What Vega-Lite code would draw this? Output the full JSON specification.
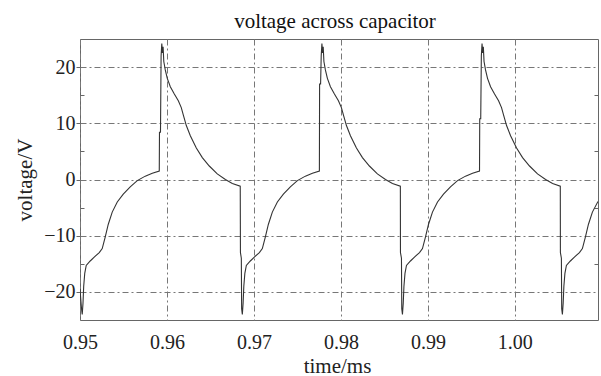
{
  "$schema": "https://vega.github.io/schema/vega-lite/v6.json",
  "width": 518,
  "height": 281,
  "autosize": {"type": "none"},
  "padding": {"left": 80, "top": 39, "right": 3, "bottom": 56},
  "background": "white",
  "config": {"view": {"stroke": "#666", "strokeWidth": 1}, "font": "Liberation Serif"},
  "title": {"text": "voltage across capacitor", "font": "Liberation Serif", "fontSize": 21, "fontWeight": "normal", "color": "#111", "anchor": "middle", "dx": -4, "dy": 22, "offset": 12, "baseline": "alphabetic"},
  "data": {"values": [
    {"t": 0.95, "v": -19.5},
    {"t": 0.950175, "v": -23},
    {"t": 0.950255, "v": -24.0},
    {"t": 0.950345, "v": -22},
    {"t": 0.950425, "v": -19},
    {"t": 0.950545, "v": -16.7},
    {"t": 0.950715, "v": -15.3},
    {"t": 0.951175, "v": -14.5},
    {"t": 0.951635, "v": -13.8},
    {"t": 0.952215, "v": -13},
    {"t": 0.952555, "v": -12.3},
    {"t": 0.952905, "v": -10.2},
    {"t": 0.953245, "v": -8.0},
    {"t": 0.953705, "v": -5.8},
    {"t": 0.954285, "v": -4.0},
    {"t": 0.954975, "v": -2.6},
    {"t": 0.955775, "v": -1.3},
    {"t": 0.956585, "v": -0.2},
    {"t": 0.957505, "v": 0.6},
    {"t": 0.958315, "v": 1.1},
    {"t": 0.959115, "v": 1.5},
    {"t": 0.959139, "v": 8.4},
    {"t": 0.959254, "v": 8.4},
    {"t": 0.959325, "v": 22},
    {"t": 0.959405, "v": 24.2},
    {"t": 0.959485, "v": 22.5},
    {"t": 0.959555, "v": 23.6},
    {"t": 0.959635, "v": 21},
    {"t": 0.959805, "v": 19.5},
    {"t": 0.960035, "v": 18},
    {"t": 0.960385, "v": 16.5},
    {"t": 0.960845, "v": 15.2},
    {"t": 0.961305, "v": 14},
    {"t": 0.961645, "v": 12.8},
    {"t": 0.961875, "v": 11.5},
    {"t": 0.962225, "v": 9.6},
    {"t": 0.962685, "v": 7.8},
    {"t": 0.963375, "v": 5.6},
    {"t": 0.964065, "v": 3.9},
    {"t": 0.964865, "v": 2.4},
    {"t": 0.965785, "v": 1.0},
    {"t": 0.966715, "v": 0.0},
    {"t": 0.967515, "v": -0.7},
    {"t": 0.968425, "v": -1.2},
    {"t": 0.968447, "v": -13},
    {"t": 0.96855, "v": -14},
    {"t": 0.968585, "v": -23},
    {"t": 0.968665, "v": -24.0},
    {"t": 0.968755, "v": -22},
    {"t": 0.968835, "v": -19},
    {"t": 0.968955, "v": -16.7},
    {"t": 0.969125, "v": -15.3},
    {"t": 0.969585, "v": -14.5},
    {"t": 0.970045, "v": -13.8},
    {"t": 0.970625, "v": -13},
    {"t": 0.970965, "v": -12.3},
    {"t": 0.971315, "v": -10.2},
    {"t": 0.971655, "v": -8.0},
    {"t": 0.972115, "v": -5.8},
    {"t": 0.972695, "v": -4.0},
    {"t": 0.973385, "v": -2.6},
    {"t": 0.974185, "v": -1.3},
    {"t": 0.974995, "v": -0.2},
    {"t": 0.975915, "v": 0.6},
    {"t": 0.976725, "v": 1.1},
    {"t": 0.977525, "v": 1.5},
    {"t": 0.977549, "v": 17},
    {"t": 0.977664, "v": 17},
    {"t": 0.977735, "v": 22},
    {"t": 0.977815, "v": 24.2},
    {"t": 0.977895, "v": 22.5},
    {"t": 0.977965, "v": 23.6},
    {"t": 0.978045, "v": 21},
    {"t": 0.978215, "v": 19.5},
    {"t": 0.978445, "v": 18},
    {"t": 0.978795, "v": 16.5},
    {"t": 0.979255, "v": 15.2},
    {"t": 0.979715, "v": 14},
    {"t": 0.980055, "v": 12.8},
    {"t": 0.980285, "v": 11.5},
    {"t": 0.980635, "v": 9.6},
    {"t": 0.981095, "v": 7.8},
    {"t": 0.981785, "v": 5.6},
    {"t": 0.982475, "v": 3.9},
    {"t": 0.983275, "v": 2.4},
    {"t": 0.984195, "v": 1.0},
    {"t": 0.985125, "v": 0.0},
    {"t": 0.985925, "v": -0.7},
    {"t": 0.986835, "v": -1.2},
    {"t": 0.986847, "v": -13},
    {"t": 0.986962, "v": -14},
    {"t": 0.986997, "v": -23},
    {"t": 0.987077, "v": -24.0},
    {"t": 0.987167, "v": -22},
    {"t": 0.987247, "v": -19},
    {"t": 0.987367, "v": -16.7},
    {"t": 0.987537, "v": -15.3},
    {"t": 0.987997, "v": -14.5},
    {"t": 0.988457, "v": -13.8},
    {"t": 0.989037, "v": -13},
    {"t": 0.989377, "v": -12.3},
    {"t": 0.989727, "v": -10.2},
    {"t": 0.990067, "v": -8.0},
    {"t": 0.990527, "v": -5.8},
    {"t": 0.991107, "v": -4.0},
    {"t": 0.991797, "v": -2.6},
    {"t": 0.992597, "v": -1.3},
    {"t": 0.993407, "v": -0.2},
    {"t": 0.994327, "v": 0.6},
    {"t": 0.995137, "v": 1.1},
    {"t": 0.995937, "v": 1.5},
    {"t": 0.995961, "v": 10.8},
    {"t": 0.996076, "v": 10.8},
    {"t": 0.996147, "v": 22},
    {"t": 0.996227, "v": 24.2},
    {"t": 0.996307, "v": 22.5},
    {"t": 0.996377, "v": 23.6},
    {"t": 0.996457, "v": 21},
    {"t": 0.996627, "v": 19.5},
    {"t": 0.996857, "v": 18},
    {"t": 0.997207, "v": 16.5},
    {"t": 0.997667, "v": 15.2},
    {"t": 0.998127, "v": 14},
    {"t": 0.998467, "v": 12.8},
    {"t": 0.998697, "v": 11.5},
    {"t": 0.999047, "v": 9.6},
    {"t": 0.999507, "v": 7.8},
    {"t": 1.000197, "v": 5.6},
    {"t": 1.000887, "v": 3.9},
    {"t": 1.001687, "v": 2.4},
    {"t": 1.002607, "v": 1.0},
    {"t": 1.003537, "v": 0.0},
    {"t": 1.004337, "v": -0.7},
    {"t": 1.005225, "v": -1.2},
    {"t": 1.005236, "v": -13},
    {"t": 1.005351, "v": -14},
    {"t": 1.005386, "v": -23},
    {"t": 1.005466, "v": -24.0},
    {"t": 1.005556, "v": -22},
    {"t": 1.005636, "v": -19},
    {"t": 1.005756, "v": -16.7},
    {"t": 1.005926, "v": -15.3},
    {"t": 1.006386, "v": -14.5},
    {"t": 1.006846, "v": -13.8},
    {"t": 1.007426, "v": -13},
    {"t": 1.007766, "v": -12.3},
    {"t": 1.008116, "v": -10.2},
    {"t": 1.008456, "v": -8.0},
    {"t": 1.008916, "v": -5.8},
    {"t": 1.00956, "v": -3.9}
  ]},
  "encoding": {
    "x": {
      "field": "t",
      "type": "quantitative",
      "scale": {"domain": [0.95, 1.00956], "nice": false, "zero": false},
      "axis": {
        "values": [0.95, 0.96, 0.97, 0.98, 0.99, 1.0],
        "format": ".2f",
        "title": "time/ms",
        "grid": true,
        "gridColor": "#777",
        "gridDash": [6, 3, 2, 3],
        "gridWidth": 1,
        "ticks": false,
        "domain": false,
        "labelFont": "Liberation Serif",
        "labelFontSize": 20,
        "labelColor": "#222",
        "labelPadding": 12,
        "labelFlush": false,
        "titleFont": "Liberation Serif",
        "titleFontSize": 21,
        "titleFontWeight": "normal",
        "titleColor": "#222",
        "titleX": 257,
        "titleY": 52,
        "titleBaseline": "alphabetic"
      }
    }
  },
  "layer": [
    {
      "mark": {"type": "line", "color": "#333", "strokeWidth": 1.1, "clip": true},
      "encoding": {
        "y": {
          "field": "v",
          "type": "quantitative",
          "scale": {"domain": [-25, 25], "nice": false, "zero": false},
          "axis": {
            "values": [-20, -10, 0, 10, 20],
            "title": "voltage/V",
            "grid": true,
            "gridColor": "#777",
            "gridDash": [6, 3, 2, 3],
            "gridWidth": 1,
            "ticks": true,
            "tickSize": 4,
            "tickColor": "#666",
            "domain": false,
            "labelFont": "Liberation Serif",
            "labelFontSize": 20,
            "labelColor": "#222",
            "labelPadding": 1,
            "titleFont": "Liberation Serif",
            "titleFontSize": 21,
            "titleFontWeight": "normal",
            "titleColor": "#222",
            "titleX": -49,
            "titleY": 140.5,
            "titleAngle": -90,
            "titleAlign": "center",
            "titleBaseline": "alphabetic"
          }
        }
      }
    },
    {
      "mark": {"type": "line", "strokeOpacity": 0},
      "encoding": {
        "y": {
          "field": "v",
          "type": "quantitative",
          "scale": {"domain": [-25, 25], "nice": false, "zero": false},
          "axis": {"orient": "right", "values": [-15, -5, 5, 15], "labels": false, "grid": false, "domain": false, "tickSize": -4, "tickColor": "#666", "title": null}
        }
      }
    },
    {
      "mark": {"type": "line", "strokeOpacity": 0},
      "encoding": {
        "y": {
          "field": "v",
          "type": "quantitative",
          "scale": {"domain": [-25, 25], "nice": false, "zero": false},
          "axis": {"orient": "left", "values": [-15, -5, 5, 15], "labels": false, "grid": false, "domain": false, "tickSize": -4, "tickColor": "#666", "title": null}
        }
      }
    }
  ],
  "resolve": {"axis": {"y": "independent"}}
}
